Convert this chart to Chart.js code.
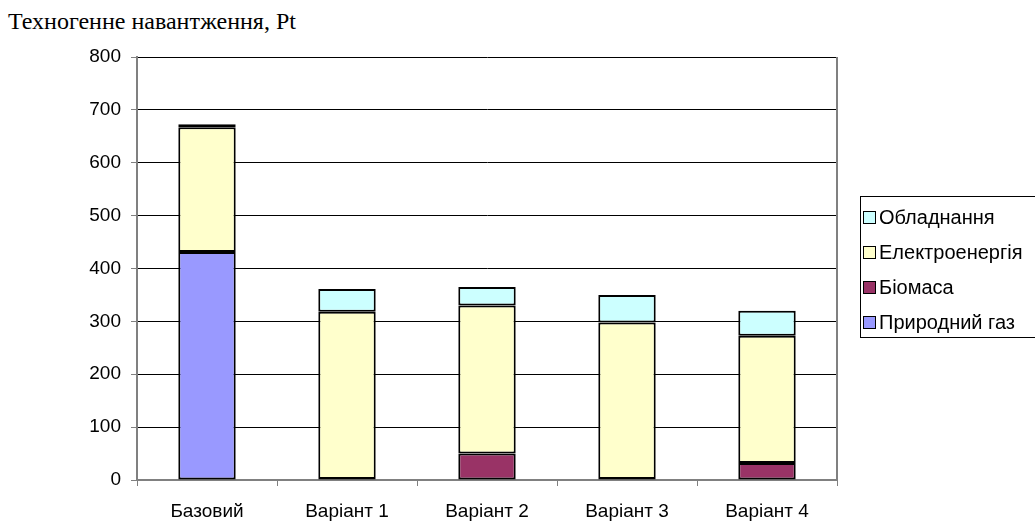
<!DOCTYPE html>
<html>
<head>
<meta charset="utf-8">
<script src="https://cdn.jsdelivr.net/npm/chart.js@4.4.0/dist/chart.umd.min.js"></script>
<style>
  html, body { margin: 0; padding: 0; background: #fff; overflow: hidden; }
  #wrap { position: relative; width: 1035px; height: 521px; overflow: hidden; }
  #title {
    position: absolute; left: 8px; top: 8px;
    font-family: "Liberation Serif", "Times New Roman", serif;
    font-size: 24px; color: #000;
  }
  #legend {
    position: absolute; left: 860px; top: 196px; width: 185px; height: 142px;
    border: 1px solid #000; box-sizing: border-box;
    font-family: "Liberation Sans", Arial, sans-serif; font-size: 20px;
    padding: 9px 0 0 2px;
  }
  .item { height: 35px; display: flex; align-items: flex-start; white-space: nowrap; line-height: 22px; }
  .sw { width: 11px; height: 11px; border: 1px solid #000; margin: 5px 3px 0 0; flex: none; }
  canvas { position: absolute; left: 0; top: 0; }
</style>
</head>
<body>
<div id="wrap">
  <div id="title">Техногенне навантження, Pt</div>
  <canvas id="chart" width="1035" height="521"></canvas>
  <div id="legend"></div>
</div>
<script>
// Categories and series
const categories = ['Базовий', 'Варіант 1', 'Варіант 2', 'Варіант 3', 'Варіант 4'];
const gas = [431, null, null, null, null];
const biomass = [null, 2, 50, 2, 32];
const electricity = [236, 316, 280, 296, 241];
const equipment = [6, 43, 35, 52, 47];

const seriesNames = ['Природний газ', 'Біомаса', 'Електроенергія', 'Обладнання'];
const seriesColors = ['#9999ff', '#993366', '#ffffcc', '#ccffff'];
const seriesValues = [gas, biomass, electricity, equipment];

const datasets = seriesNames.map((name, i) => ({
    label: name,
    data: seriesValues[i],
    backgroundColor: seriesColors[i],
    borderColor: '#000',
    borderWidth: 2,
    borderSkipped: false,
    barPercentage: 0.82,
    categoryPercentage: 0.5
}));

const font = { family: '"Liberation Sans", Arial, sans-serif', size: 19 };

new Chart(document.getElementById('chart'), {
    type: 'bar',
    data: { labels: categories, datasets: datasets },
    options: {
        responsive: false,
        animation: false,
        layout: { padding: { left: 0, right: 198, top: 57, bottom: 0 } },
        plugins: { legend: { display: false }, tooltip: { enabled: false } },
        scales: {
            x: {
                stacked: true,
                grid: { drawOnChartArea: false, offset: true, tickLength: 6, color: '#808080' },
                border: { color: '#808080', width: 2 },
                ticks: { color: '#000', font: font, padding: 14 },
                afterFit: s => { s.height = 41; }
            },
            y: {
                stacked: true,
                min: 0, max: 800,
                ticks: { stepSize: 100, color: '#000', font: font, padding: 10 },
                grid: { color: '#000', tickLength: 6, tickColor: '#808080' },
                border: { color: '#808080', width: 2 },
                afterFit: s => { s.width = 137; }
            }
        }
    },
    plugins: [{
        id: 'plotFrame',
        afterDraw(chart) {
            const { ctx, chartArea: a } = chart;
            ctx.save();
            ctx.strokeStyle = '#808080';
            ctx.lineWidth = 2;
            ctx.beginPath();
            ctx.moveTo(a.right, a.top);
            ctx.lineTo(a.right, a.bottom);
            ctx.stroke();
            ctx.restore();
        }
    }]
});

// Legend (reverse order, like the original)
const legend = document.getElementById('legend');
for (let i = seriesNames.length - 1; i >= 0; i--) {
    const row = document.createElement('div');
    row.className = 'item';
    row.innerHTML = '<span class="sw" style="background:' + seriesColors[i] + '"></span>' + seriesNames[i];
    legend.appendChild(row);
}
</script>
</body>
</html>
